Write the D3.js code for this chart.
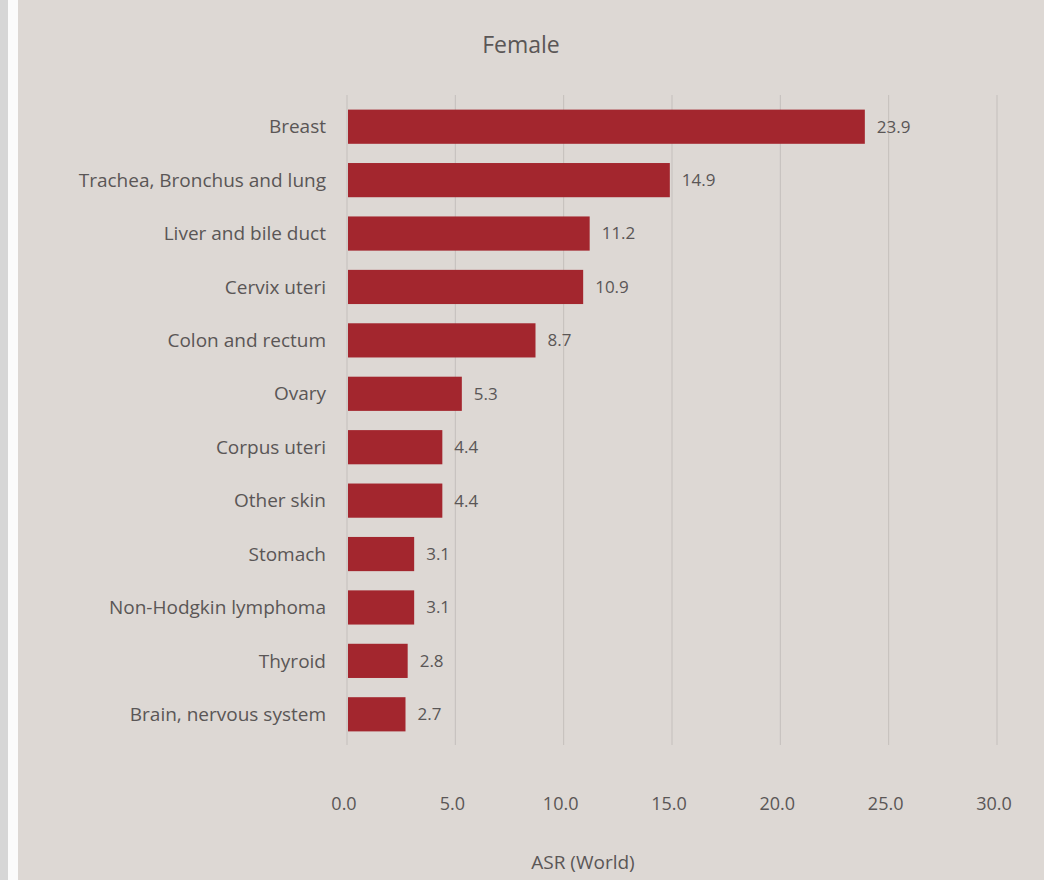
<!DOCTYPE html>
<html>
<head>
<meta charset="utf-8">
<script src="https://cdn.jsdelivr.net/npm/d3@7"></script>
<style>
  body { margin: 0; background: #ddd8d4; }
  svg { display: block; }
  text { font-family: "Open Sans", sans-serif; }
</style>
</head>
<body>
<svg id="chart" width="1044" height="880"></svg>
<script>
var sites = ["Breast", "Trachea, Bronchus and lung", "Liver and bile duct", "Cervix uteri",
  "Colon and rectum", "Ovary", "Corpus uteri", "Other skin", "Stomach",
  "Non-Hodgkin lymphoma", "Thyroid", "Brain, nervous system"];
var asr = [23.9, 14.9, 11.2, 10.9, 8.7, 5.3, 4.4, 4.4, 3.1, 3.1, 2.8, 2.7];
var ticks = [0, 5, 10, 15, 20, 25, 30];

var svg = d3.select("#chart");
var barColor = "#a3262e";
var textColor = "#5a5656";

// photo edge strips on the left
svg.append("rect").attr("x", 0).attr("y", 0).attr("width", 8).attr("height", 880).attr("fill", "#d6d6d6");
svg.append("rect").attr("x", 8).attr("y", 0).attr("width", 10).attr("height", 880).attr("fill", "#fbfbfb");

var x = d3.scaleLinear().domain([0, 30]).range([347, 997]);
var y = d3.scaleBand().domain(sites).range([100, 741]).paddingInner(0.36).paddingOuter(0.18);

// grid lines
svg.append("g").selectAll("line").data(ticks).enter().append("line")
    .attr("x1", function(d) { return x(d); })
    .attr("x2", function(d) { return x(d); })
    .attr("y1", 95).attr("y2", 745)
    .attr("stroke", "#c4bfbc").attr("stroke-width", 1);

// bars
svg.append("g").selectAll("rect").data(sites).enter().append("rect")
    .attr("x", x(0) + 1)
    .attr("y", function(d) { return y(d); })
    .attr("width", function(d, i) { return x(asr[i]) - x(0) - 1; })
    .attr("height", y.bandwidth())
    .attr("fill", barColor);

// value labels
svg.append("g").selectAll("text").data(sites).enter().append("text")
    .attr("x", function(d, i) { return x(asr[i]) + 12; })
    .attr("y", function(d) { return y(d) + y.bandwidth() / 2; })
    .attr("dy", "0.35em")
    .attr("font-size", 17)
    .attr("fill", textColor)
    .text(function(d, i) { return asr[i].toFixed(1); });

// category labels
svg.append("g").selectAll("text").data(sites).enter().append("text")
    .attr("x", 326)
    .attr("y", function(d) { return y(d) + y.bandwidth() / 2; })
    .attr("dy", "0.35em")
    .attr("text-anchor", "end")
    .attr("font-size", 19)
    .attr("fill", textColor)
    .text(function(d) { return d; });

// x tick labels
svg.append("g").selectAll("text").data(ticks).enter().append("text")
    .attr("x", function(d) { return x(d) - 3; })
    .attr("y", 810)
    .attr("text-anchor", "middle")
    .attr("font-size", 18)
    .attr("fill", textColor)
    .text(function(d) { return d.toFixed(1); });

svg.append("text")
    .attr("x", 583).attr("y", 869)
    .attr("text-anchor", "middle")
    .attr("font-size", 19)
    .attr("fill", textColor)
    .text("ASR (World)");

svg.append("text")
    .attr("x", 521).attr("y", 53)
    .attr("text-anchor", "middle")
    .attr("font-size", 23)
    .attr("fill", textColor)
    .text("Female");
</script>
</body>
</html>
